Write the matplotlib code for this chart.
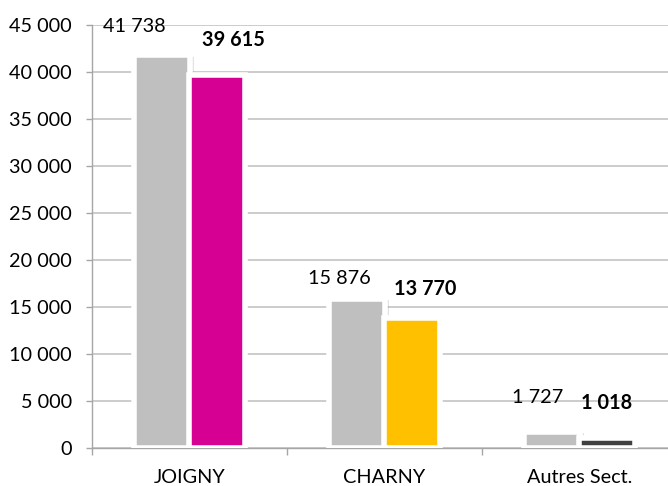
import matplotlib
matplotlib.use("Agg")
import matplotlib.pyplot as plt
import matplotlib.patheffects as pe
from matplotlib.ticker import FuncFormatter, MultipleLocator, FixedLocator
import numpy as np

categories = ["JOIGNY", "CHARNY", "Autres Sect."]
values_prev = [41738, 15876, 1727]
values_curr = [39615, 13770, 1018]
curr_colors = ["#D60093", "#FFC000", "#404040"]
prev_color = "#BFBFBF"

# label offsets in pixels (dx, dy of baseline relative to bar top centre)
prev_label_off = [(-27, 23), (-17, 15), (-14, 29)]
curr_label_off = [(16, 29), (13, 23), (-1, 29)]

plt.rcParams['font.family'] = ['Lato', 'DejaVu Sans']
FS = 14.3

fig = plt.figure(figsize=(6.68, 4.86), dpi=100)
ax = fig.add_axes([92/668, 38/486, 585/668, 423.5/486])

x = np.arange(len(categories))
w = 0.285
off = 0.1423

shadow = [pe.SimplePatchShadow(offset=(3.0, -1.0), shadow_rgbFace="#909090",
                               alpha=0.25, linewidth=0), pe.Normal()]

bp = ax.bar(x - off, values_prev, width=w, color=prev_color, edgecolor="white",
            linewidth=4, zorder=3)
for p in bp:
    p.set_path_effects(shadow)
bc = ax.bar(x + off, values_curr, width=w, color=curr_colors, edgecolor="white",
            linewidth=4, zorder=4)

def fmt(v):
    return f"{int(v):,}".replace(",", " ")

for i in range(len(categories)):
    ax.annotate(fmt(values_prev[i]), xy=(x[i] - off, values_prev[i]),
                xytext=prev_label_off[i], textcoords="offset pixels",
                ha="center", va="baseline", fontsize=FS, color="black", zorder=6)
    ax.annotate(fmt(values_curr[i]), xy=(x[i] + off, values_curr[i]),
                xytext=curr_label_off[i], textcoords="offset pixels",
                ha="center", va="baseline", fontsize=FS, fontweight="bold",
                color="black", zorder=6)

ax.set_xlim(-0.5, 2.5)
ax.set_ylim(0, 45000)
ax.yaxis.set_major_locator(MultipleLocator(5000))
ax.yaxis.set_major_formatter(FuncFormatter(lambda v, p: fmt(v)))
ax.grid(axis="y", color="#BFBFBF", linewidth=1.1, zorder=0)
ax.set_axisbelow(True)

ax.set_xticks(x)
ax.set_xticklabels(categories, fontsize=FS)
ax.xaxis.set_minor_locator(FixedLocator([-0.5, 0.5, 1.5]))
ax.tick_params(axis="x", which="major", length=0, pad=15)
ax.tick_params(axis="x", which="minor", length=5, color="#A6A6A6", width=1)
ax.tick_params(axis="y", length=4.5, color="#A6A6A6", width=1, labelsize=FS, pad=10)

for s in ["top", "right"]:
    ax.spines[s].set_visible(False)
for s in ["left", "bottom"]:
    ax.spines[s].set_color("#A6A6A6")
    ax.spines[s].set_linewidth(1)

fig.savefig("out.png", dpi=100)
